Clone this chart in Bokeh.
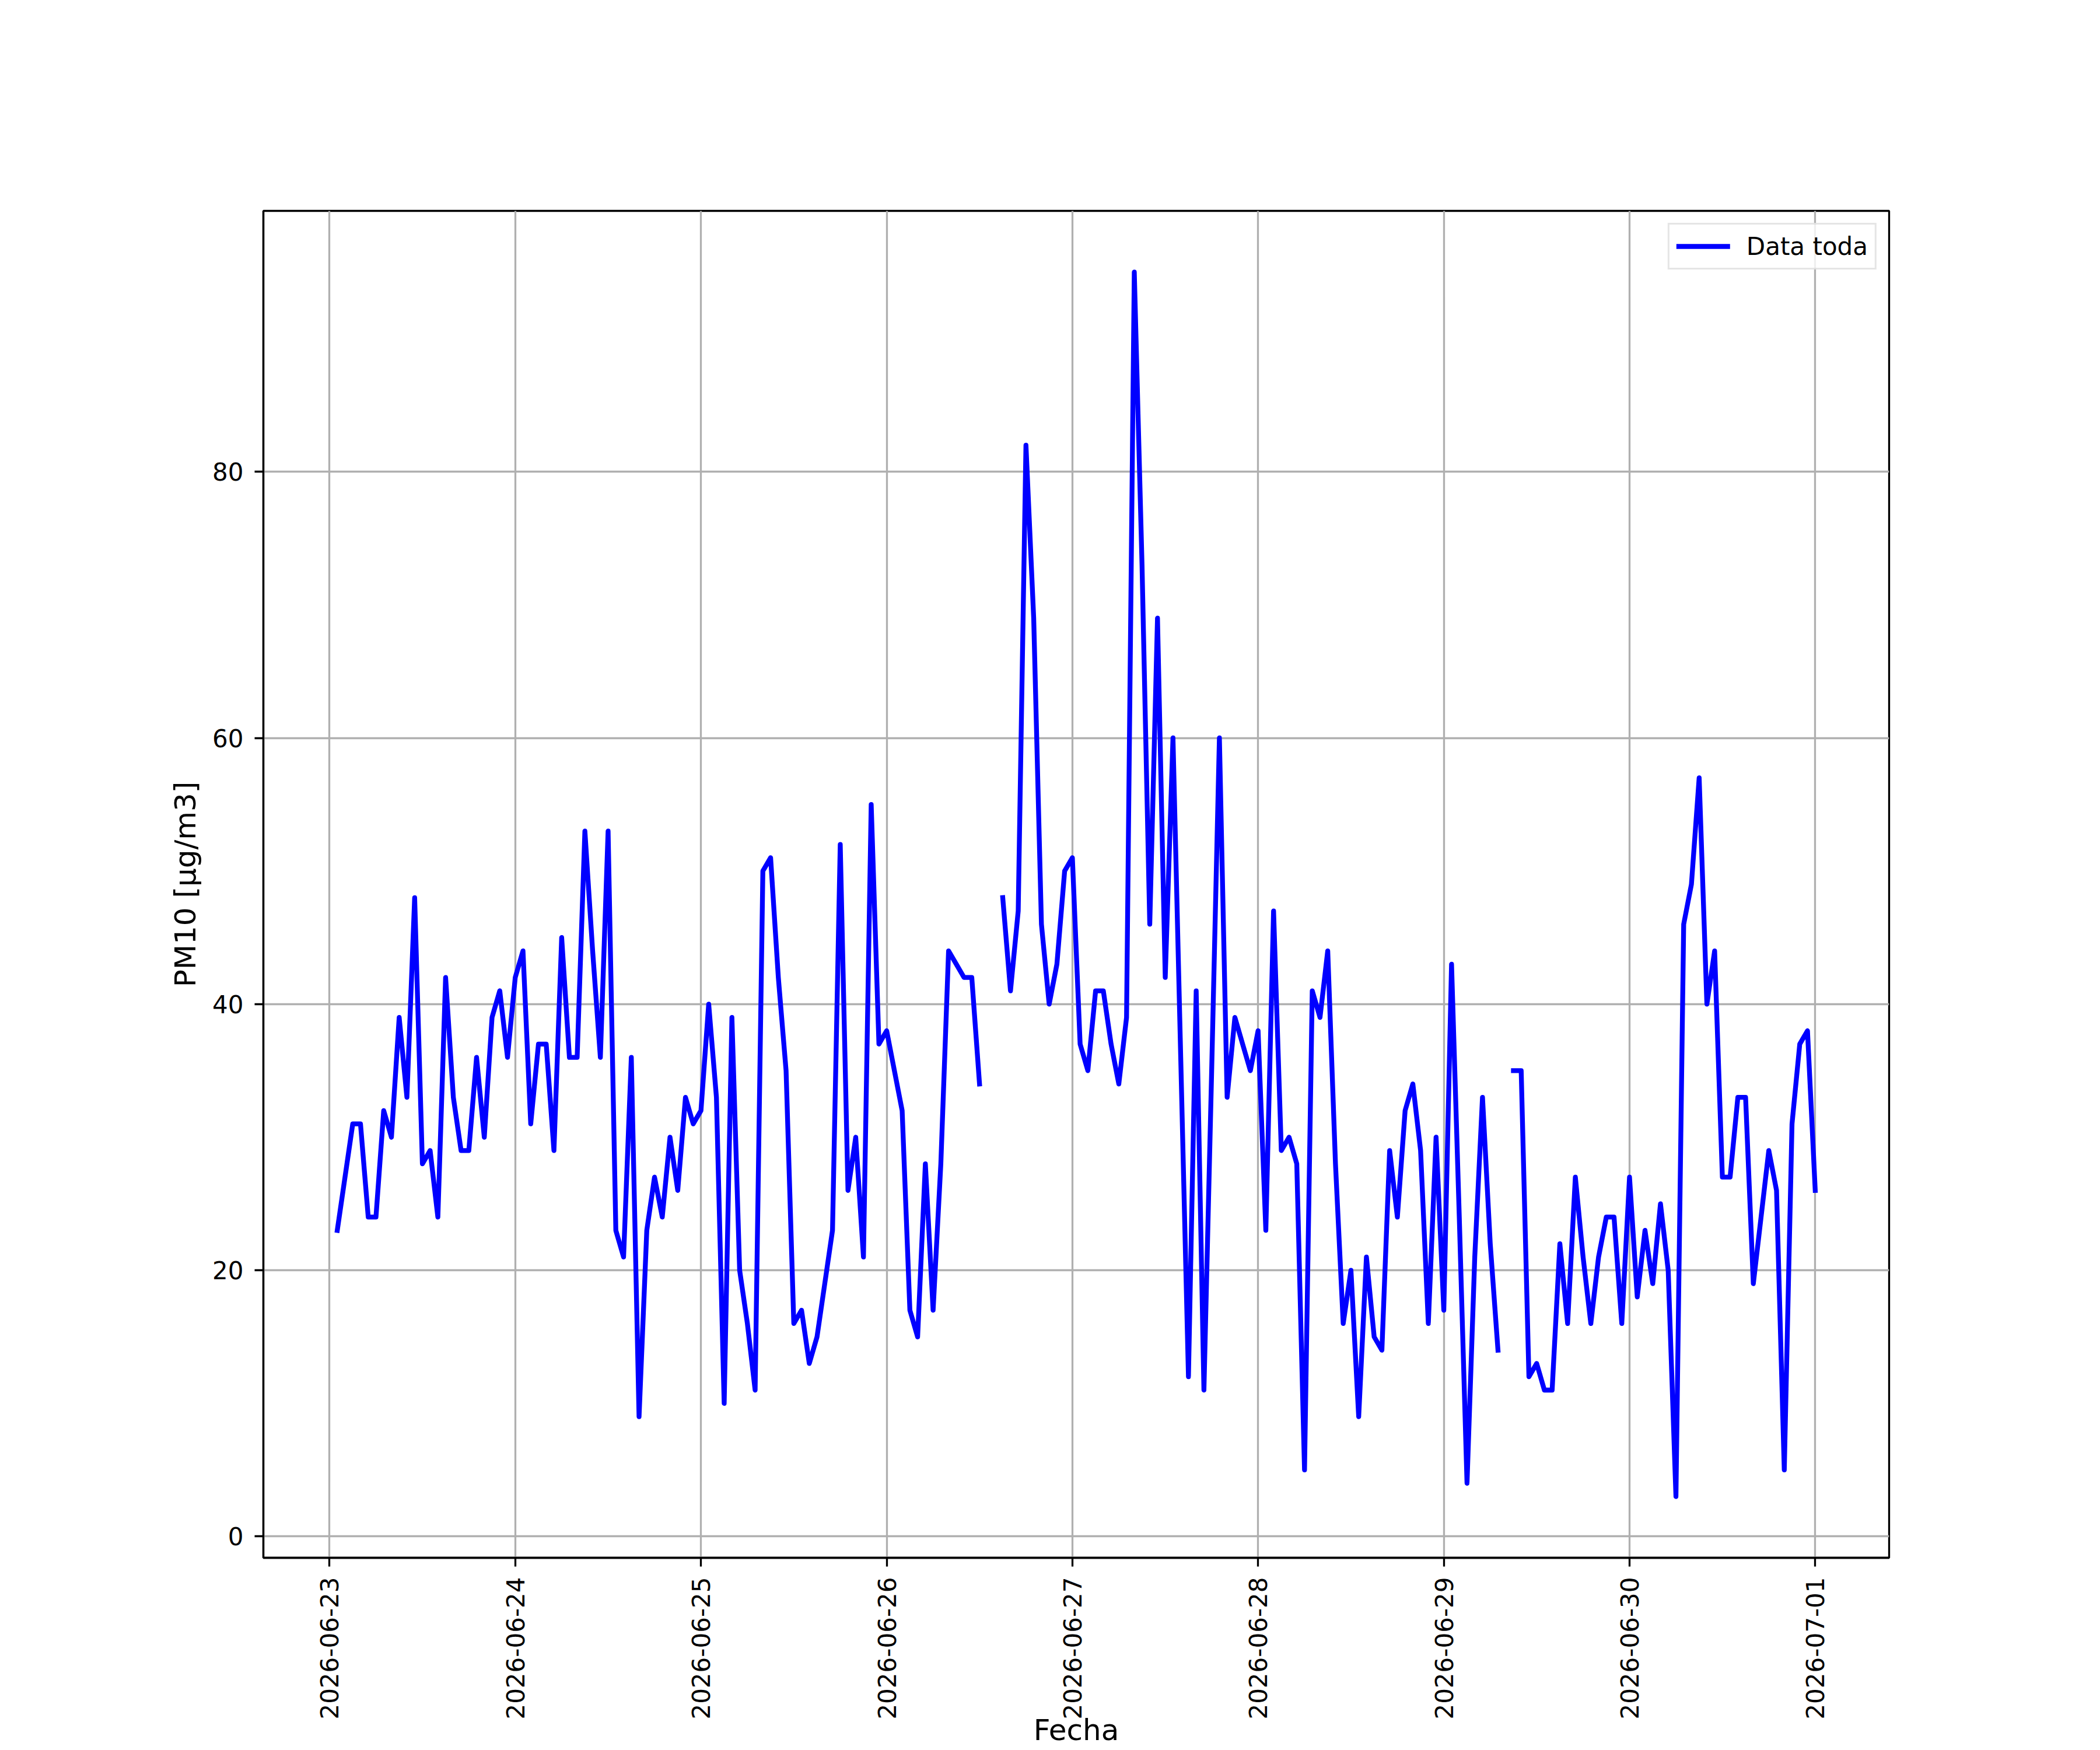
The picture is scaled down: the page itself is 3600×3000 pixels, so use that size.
import math
import numpy as np
import pandas as pd
from bokeh.plotting import figure
from bokeh.models import (Range1d, DaysTicker, DatetimeTickFormatter, FixedTicker,
                          Legend, LegendItem, ColumnDataSource)
from bokeh.embed import file_html
from bokeh.resources import INLINE

NaN = float("nan")

# ---- data (hourly PM10, first reading at 2026-06-23 01:00) ----
start_time = "2026-06-23 01:00"
pm10_day1 = [23, 27, 31, 31, 24, 24, 32, 30, 39, 33, 48, 28, 29, 24, 42, 33,
             29, 29, 36, 30, 39, 41, 36, 42]
pm10_day2 = [44, 31, 37, 37, 29, 45, 36, 36, 53, 44, 36, 53, 23, 21, 36, 9,
             23, 27, 24, 30, 26, 33, 31, 32]
pm10_day3 = [40, 33, 10, 39, 20, 16, 11, 50, 51, 42, 35, 16, 17, 13, 15, 19,
             23, 52, 26, 30, 21, 55, 37, 38]
pm10_day4 = [35, 32, 17, 15, 28, 17, 28, 44, 43, 42, 42, 34, NaN, NaN, 48, 41,
             47, 82, 69, 46, 40, 43, 50, 51]
pm10_day5 = [37, 35, 41, 41, 37, 34, 39, 95, 73, 46, 69, 42, 60, 36, 12, 41,
             11, 35, 60, 33, 39, 37, 35, 38]
pm10_day6 = [23, 47, 29, 30, 28, 5, 41, 39, 44, 28, 16, 20, 9, 21, 15, 14,
             29, 24, 32, 34, 29, 16, 30, 17]
pm10_day7 = [43, 24, 4, 21, 33, 22, 14, NaN, 35, 35, 12, 13, 11, 11, 22, 16,
             27, 21, 16, 21, 24, 24, 16, 27]
pm10_day8 = [18, 23, 19, 25, 20, 3, 46, 49, 57, 40, 44, 27, 27, 33, 33, 19,
             24, 29, 26, 5, 31, 37, 38, 26]

pm10 = (pm10_day1 + pm10_day2 + pm10_day3 + pm10_day4 +
        pm10_day5 + pm10_day6 + pm10_day7 + pm10_day8)
series_label = "Data toda"
x_label = "Fecha"
y_label = "PM10 [\u03bcg/m3]"
y_ticks = [0, 20, 40, 60, 80]

times = pd.date_range(start_time, periods=len(pm10), freq="h")
vals = np.array(pm10, dtype=float)
src = ColumnDataSource(dict(t=times, v=vals))

# ---- ranges with matplotlib-like 5% padding ----
t0, t1 = times[0], times[-1]
tpad = (t1 - t0) * 0.05
vmin, vmax = np.nanmin(vals), np.nanmax(vals)
vpad = (vmax - vmin) * 0.05

W, H = 3584, 3000
FRAME_L, FRAME_T, FRAME_R, FRAME_B = 451, 361, 3238, 2670
FONT = "DejaVu Sans"
LW = 3.3

p = figure(width=W, height=H, x_axis_type="datetime",
           output_backend="svg", toolbar_location=None,
           x_range=Range1d(t0 - tpad, t1 + tpad),
           y_range=Range1d(vmin - vpad, vmax + vpad),
           min_border_left=FRAME_L, min_border_right=W - FRAME_R,
           min_border_top=FRAME_T, min_border_bottom=H - FRAME_B)
p.background_fill_color = "white"
p.border_fill_color = "white"
p.outline_line_color = "black"
p.outline_line_width = LW

p.xaxis.ticker = DaysTicker(days=list(range(1, 32)))
fmt = "%Y-%m-%d"
p.xaxis.formatter = DatetimeTickFormatter(days=fmt, months=fmt, years=fmt,
                                          hours=fmt, hourmin=fmt)
p.yaxis.ticker = FixedTicker(ticks=y_ticks)
p.xaxis.major_label_orientation = math.pi / 2

for ax in (p.xaxis, p.yaxis):
    ax.axis_line_color = "black"
    ax.axis_line_width = LW
    ax.major_tick_line_color = "black"
    ax.major_tick_line_width = LW
    ax.major_tick_out = 15
    ax.major_tick_in = 0
    ax.minor_tick_line_color = None
    ax.major_label_text_font = FONT
    ax.major_label_text_font_size = "42px"
    ax.major_label_text_color = "black"
    ax.axis_label_text_font = FONT
    ax.axis_label_text_font_size = "50px"
    ax.axis_label_text_font_style = "normal"
    ax.axis_label_text_color = "black"
p.xaxis.major_label_standoff = 18
p.yaxis.major_label_standoff = 19
p.xaxis.axis_label = x_label
p.yaxis.axis_label = y_label
p.xaxis.axis_label_standoff = -14
p.yaxis.axis_label_standoff = 14

p.grid.grid_line_color = "#b0b0b0"
p.grid.grid_line_width = LW

r = p.line("t", "v", source=src, line_color="#0000ff", line_width=8.3,
           line_join="round", line_cap="square")

legend = Legend(items=[LegendItem(label=series_label, renderers=[r])],
                location="top_right",
                label_text_font=FONT, label_text_font_size="42px",
                label_text_color="black",
                glyph_width=92, glyph_height=50, label_height=50,
                label_standoff=28, padding=12, margin=21, spacing=0,
                border_line_color="#cccccc", border_line_width=LW,
                background_fill_color="white", background_fill_alpha=0.8)
p.add_layout(legend)

open("out.html", "w").write(file_html(p, INLINE))
